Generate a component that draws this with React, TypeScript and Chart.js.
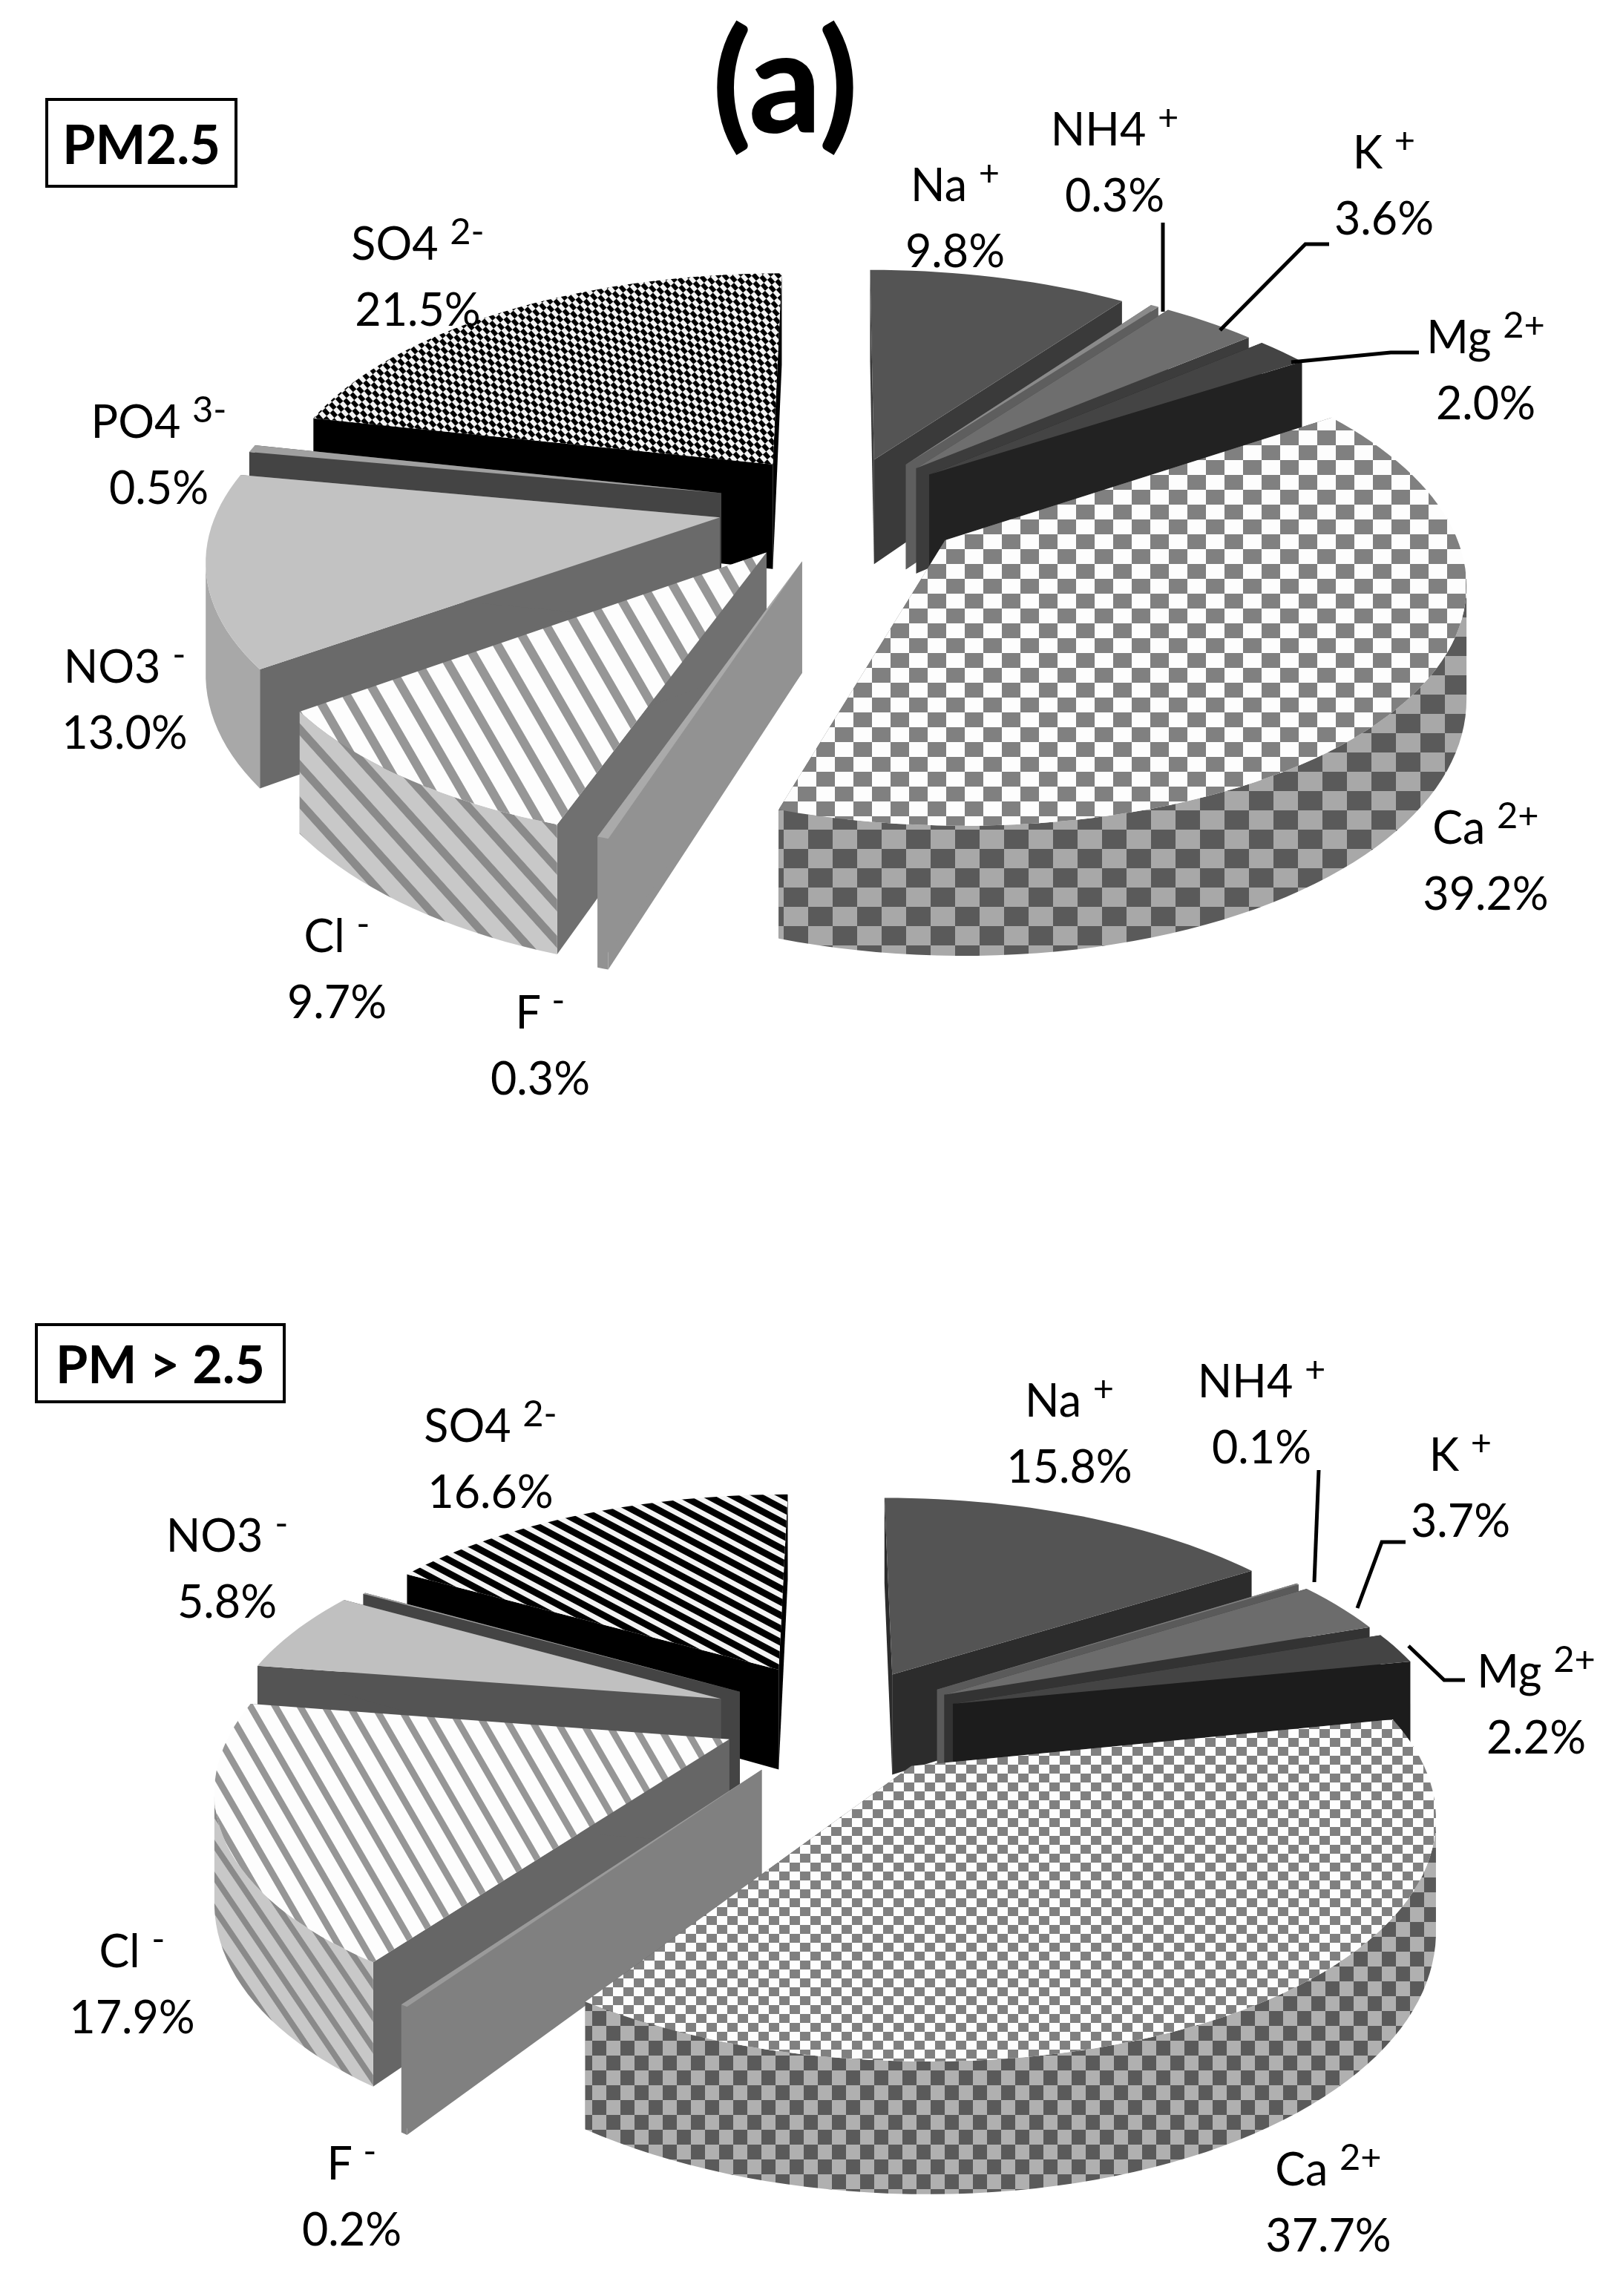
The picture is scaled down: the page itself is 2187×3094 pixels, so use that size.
import React, { useEffect, useRef } from "react";
import { Chart, registerables } from "chart.js";

Chart.register(...registerables);

// ---------- data ----------
const ionNames = ["Na", "NH4", "K", "Mg", "Ca", "F", "Cl", "NO3", "PO4", "SO4"];
const ionCharges = ["+", "+", "+", "2+", "2+", "-", "-", "-", "3-", "2-"];
const pm25Values = [9.8, 0.3, 3.6, 2.0, 39.2, 0.3, 9.7, 13.0, 0.5, 21.5];
const pmCoarseValues = [15.8, 0.1, 3.7, 2.2, 37.7, 0.2, 17.9, 5.8, 0.1, 16.6];
const title = "(a)";
const pm25Title = "PM2.5";
const pmCoarseTitle = "PM > 2.5";

// ---------- styling and layout ----------
const FONT = "Lato, 'Open Sans', sans-serif";
const PAGE_W = 2187;
const PAGE_H = 3094;
const SPLIT = 1550;

// slice explosion as a share of the radius, handed to Chart.js as `offset`
const RADIUS = 250;
const pm25Explode = [0.21, 0.22, 0.22, 0.22, 0.25, 0.25, 0.25, 0.25, 0.25, 0.23];
const coarseExplode = [0.23, 0.24, 0.24, 0.24, 0.25, 0.27, 0.24, 0.26, 0.24, 0.26];

const pm25View = { cx: 1136, cy: 680, rx: 675, ry: 311, k: 0.15, depth: 145 };
const coarseView = { cx: 1132, cy: 2315 - SPLIT, rx: 665, ry: 300, k: 0.18, depth: 140 };

const pm25Side = ["#3a3a3a", "#5e5e5e", "#3c3c3c", "#222222", "#5a5a5a", "#929292", "#707070", "#6a6a6a", "#444444", "#000000"];
const pm25Flat = ["#545454", "#8a8a8a", "#6e6e6e", "#444444", "", "#aaaaaa", "", "#c2c2c2", "#a0a0a0", ""];
const pm25Rim = ["#3a3a3a", "#5e5e5e", "#3c3c3c", "#222222", "", "#929292", "", "#a8a8a8", "#444444", "#000000"];
const coarseSide = ["#2c2c2c", "#5a5a5a", "#333333", "#1c1c1c", "#5a5a5a", "#808080", "#666666", "#545454", "#444444", "#000000"];
const coarseFlat = ["#545454", "#808080", "#6c6c6c", "#444444", "", "#9a9a9a", "", "#c0c0c0", "#a0a0a0", ""];
const coarseRim = ["#2c2c2c", "#5a5a5a", "#333333", "#1c1c1c", "", "#808080", "", "#a8a8a8", "#444444", "#000000"];

// label anchors: centre x, centre y of the first line; -1 hides the label
const pm25LabelX = [1287, 1502, 1865, 2002, 2002, 728, 454, 168, 214, 563];
const pm25LabelY = [247, 172, 203, 452, 1113, 1362, 1259, 896, 566, 326];
const coarseLabelX = [1441, 1700, 1968, 2070, 1790, 474, 178, 306, -1, 661];
const coarseLabelY = [1885, 1859, 1958, 2250, 2921, 2913, 2627, 2067, -1, 1919];
const LINE_GAP = 89;

const pm25Leaders = [
  [[1567, 300], [1567, 420]],
  [[1791, 329], [1759, 329], [1644, 445]],
  [[1912, 475], [1874, 475], [1740, 488]],
];
const coarseLeaders = [
  [[1777, 1981], [1771, 2132]],
  [[1894, 2078], [1862, 2078], [1829, 2167]],
  [[1898, 2218], [1946, 2264], [1974, 2264]],
];

// ---------- patterns ----------
function checker(w: number, h: number, a: string, b: string) {
  const c = document.createElement("canvas");
  c.width = w * 2;
  c.height = h * 2;
  const x = c.getContext("2d")!;
  x.fillStyle = b;
  x.fillRect(0, 0, w * 2, h * 2);
  x.fillStyle = a;
  x.fillRect(0, 0, w, h);
  x.fillRect(w, h, w, h);
  return x.createPattern(c, "repeat")!;
}

function stripes(period: number, dark: number, angle: number, a: string, b: string) {
  const c = document.createElement("canvas");
  c.width = period;
  c.height = 4;
  const x = c.getContext("2d")!;
  x.fillStyle = b;
  x.fillRect(0, 0, period, 4);
  x.fillStyle = a;
  x.fillRect(0, 0, dark, 4);
  const p = x.createPattern(c, "repeat")!;
  p.setTransform(new DOMMatrix().rotate(angle));
  return p;
}

function diagChecks(w: number, h: number, angle: number, a: string, b: string) {
  const p = checker(w, h, a, b);
  p.setTransform(new DOMMatrix().rotate(angle));
  return p;
}

// ---------- 3D projection plugin ----------
type View = { cx: number; cy: number; rx: number; ry: number; k: number; depth: number };

function makePie3D(view: View, side: string[], rims: (string | CanvasPattern)[], leaders: number[][][], topOffset: number) {
  const project = (u: number, v: number, low: boolean) => {
    const w = 1 - view.k * v;
    return [view.cx + (view.rx * u) / w, view.cy + (view.ry * v) / w + (low ? view.depth / w : 0)];
  };
  return {
    id: "pie3d",
    beforeDatasetDraw(chart: any) {
      const ctx: CanvasRenderingContext2D = chart.ctx;
      const arcs: any[] = chart.getDatasetMeta(0).data;
      const order = arcs
        .map((arc, i) => ({ arc, i, mid: (arc.startAngle + arc.endAngle) / 2 }))
        .sort((p, q) => Math.sin(p.mid) - Math.sin(q.mid));
      for (const { arc, i, mid } of order) {
        const e = arc.options.offset / 4 / arc.outerRadius;
        const ax = Math.cos(mid) * e;
        const ay = Math.sin(mid) * e;
        const steps = Math.max(2, Math.ceil((arc.endAngle - arc.startAngle) * 30));
        const rim: number[][] = [];
        for (let s = 0; s <= steps; s++) {
          const t = arc.startAngle + ((arc.endAngle - arc.startAngle) * s) / steps;
          rim.push([ax + Math.cos(t), ay + Math.sin(t)]);
        }
        const poly = (pts: number[][], fill: string | CanvasPattern) => {
          ctx.beginPath();
          pts.forEach((p, n) => (n ? ctx.lineTo(p[0], p[1]) : ctx.moveTo(p[0], p[1])));
          ctx.closePath();
          ctx.fillStyle = fill;
          ctx.fill();
        };
        const first = rim[0];
        const last = rim[rim.length - 1];
        // radial walls
        poly([project(ax, ay, false), project(first[0], first[1], false), project(first[0], first[1], true), project(ax, ay, true)], side[i]);
        poly([project(ax, ay, false), project(last[0], last[1], false), project(last[0], last[1], true), project(ax, ay, true)], side[i]);
        // outer wall: only the stretch that faces the viewer
        const tops = rim.map((p) => project(p[0], p[1], false));
        const lows = rim.map((p) => project(p[0], p[1], true));
        const keep: number[] = [];
        for (let s = 0; s < steps; s++) {
          if (tops[s + 1][0] < tops[s][0]) {
            if (!keep.length || keep[keep.length - 1] !== s) keep.push(s);
            keep.push(s + 1);
          }
        }
        if (keep.length > 1) {
          poly([...keep.map((s) => tops[s]), ...keep.slice().reverse().map((s) => lows[s])], rims[i]);
        }
        // top face
        poly([project(ax, ay, false), ...tops], arc.options.backgroundColor);
      }
      // leader lines
      ctx.strokeStyle = "#000";
      ctx.lineWidth = 5;
      ctx.lineJoin = "miter";
      for (const line of leaders) {
        ctx.beginPath();
        line.forEach((p, n) => (n ? ctx.lineTo(p[0], p[1] - topOffset) : ctx.moveTo(p[0], p[1] - topOffset)));
        ctx.stroke();
      }
      return false;
    },
  };
}

// ---------- components ----------
function Labels({ values, xs, ys }: { values: number[]; xs: number[]; ys: number[] }) {
  return (
    <>
      {ionNames.map((name, i) =>
        xs[i] < 0 ? null : (
          <div
            key={name}
            style={{
              position: "absolute",
              left: xs[i],
              top: ys[i] - LINE_GAP / 2,
              transform: "translateX(-50%)",
              font: `61px ${FONT}`,
              lineHeight: `${LINE_GAP}px`,
              textAlign: "center",
              whiteSpace: "nowrap",
              color: "#000",
            }}
          >
            <div style={{ height: LINE_GAP }}>
              {name}{" "}
              <span style={{ fontSize: "0.8em", position: "relative", top: "-0.42em", lineHeight: 0 }}>{ionCharges[i]}</span>
            </div>
            <div>{values[i].toFixed(1)}%</div>
          </div>
        )
      )}
    </>
  );
}

function Box({ text, left, top, width, height, size }: { text: string; left: number; top: number; width: number; height: number; size: number }) {
  return (
    <div
      style={{
        position: "absolute",
        left,
        top,
        width,
        height,
        boxSizing: "border-box",
        border: "4px solid #000",
        display: "flex",
        alignItems: "center",
        justifyContent: "center",
        font: `bold ${size}px ${FONT}`,
        color: "#000",
        whiteSpace: "nowrap",
      }}
    >
      {text}
    </div>
  );
}

export default function App() {
  const topRef = useRef<HTMLCanvasElement>(null);
  const bottomRef = useRef<HTMLCanvasElement>(null);

  useEffect(() => {
    const gray = "#808080";
    const white = "#fdfdfd";
    const build = (
      canvas: HTMLCanvasElement,
      values: number[],
      explode: number[],
      view: View,
      side: string[],
      flat: string[],
      rim: string[],
      caTop: CanvasPattern,
      caRim: CanvasPattern,
      clTop: CanvasPattern,
      clRim: CanvasPattern,
      so4: CanvasPattern,
      leaders: number[][][],
      topOffset: number
    ) => {
      const fills = flat.map((c, i) => (i === 4 ? caTop : i === 6 ? clTop : i === 9 ? so4 : c));
      const rims = rim.map((c, i) => (i === 4 ? caRim : i === 6 ? clRim : c));
      return new Chart(canvas, {
        type: "pie",
        data: {
          labels: ionNames,
          datasets: [{ data: values, backgroundColor: fills as any, offset: explode.map((e) => e * 4 * RADIUS), borderWidth: 0 }],
        },
        options: {
          responsive: false,
          animation: false,
          radius: RADIUS,
          plugins: { legend: { display: false }, tooltip: { enabled: false } },
        } as any,
        plugins: [makePie3D(view, side, rims, leaders, topOffset) as any],
      });
    };
    const c1 = build(
      topRef.current!,
      pm25Values,
      pm25Explode,
      pm25View,
      pm25Side,
      pm25Flat,
      pm25Rim,
      checker(25, 20, gray, white),
      checker(33, 26, "#5a5a5a", "#a8a8a8"),
      stripes(35, 12, -30, "#969696", white),
      stripes(33, 11, -42, "#8a8a8a", "#c8c8c8"),
      diagChecks(6, 9, -42, "#000000", "#f4f4f4"),
      pm25Leaders,
      0
    );
    const c2 = build(
      bottomRef.current!,
      pmCoarseValues,
      coarseExplode,
      coarseView,
      coarseSide,
      coarseFlat,
      coarseRim,
      checker(14, 12, gray, white),
      checker(19, 20, "#5a5a5a", "#b0b0b0"),
      stripes(29, 9, -30, "#969696", white),
      stripes(24, 8, -34, "#8a8a8a", "#c8c8c8"),
      stripes(16, 9, -62, "#000000", "#f4f4f4"),
      coarseLeaders,
      SPLIT
    );
    return () => {
      c1.destroy();
      c2.destroy();
    };
  }, []);

  return (
    <div style={{ position: "absolute", left: 0, top: 0, width: PAGE_W, height: PAGE_H, background: "#fff", overflow: "hidden" }}>
      <canvas ref={topRef} width={PAGE_W} height={SPLIT} style={{ position: "absolute", left: 0, top: 0, width: PAGE_W, height: SPLIT }} />
      <canvas ref={bottomRef} width={PAGE_W} height={PAGE_H - SPLIT} style={{ position: "absolute", left: 0, top: SPLIT, width: PAGE_W, height: PAGE_H - SPLIT }} />
      <div style={{ position: "absolute", left: 1058, top: 104, transform: "translate(-50%,-50%)", font: `900 190px ${FONT}`, color: "#000", whiteSpace: "nowrap" }}>{title}</div>
      <Box text={pm25Title} left={61} top={132} width={259} height={121} size={72} />
      <Box text={pmCoarseTitle} left={47} top={1783} width={338} height={108} size={70} />
      <Labels values={pm25Values} xs={pm25LabelX} ys={pm25LabelY} />
      <Labels values={pmCoarseValues} xs={coarseLabelX} ys={coarseLabelY} />
    </div>
  );
}
